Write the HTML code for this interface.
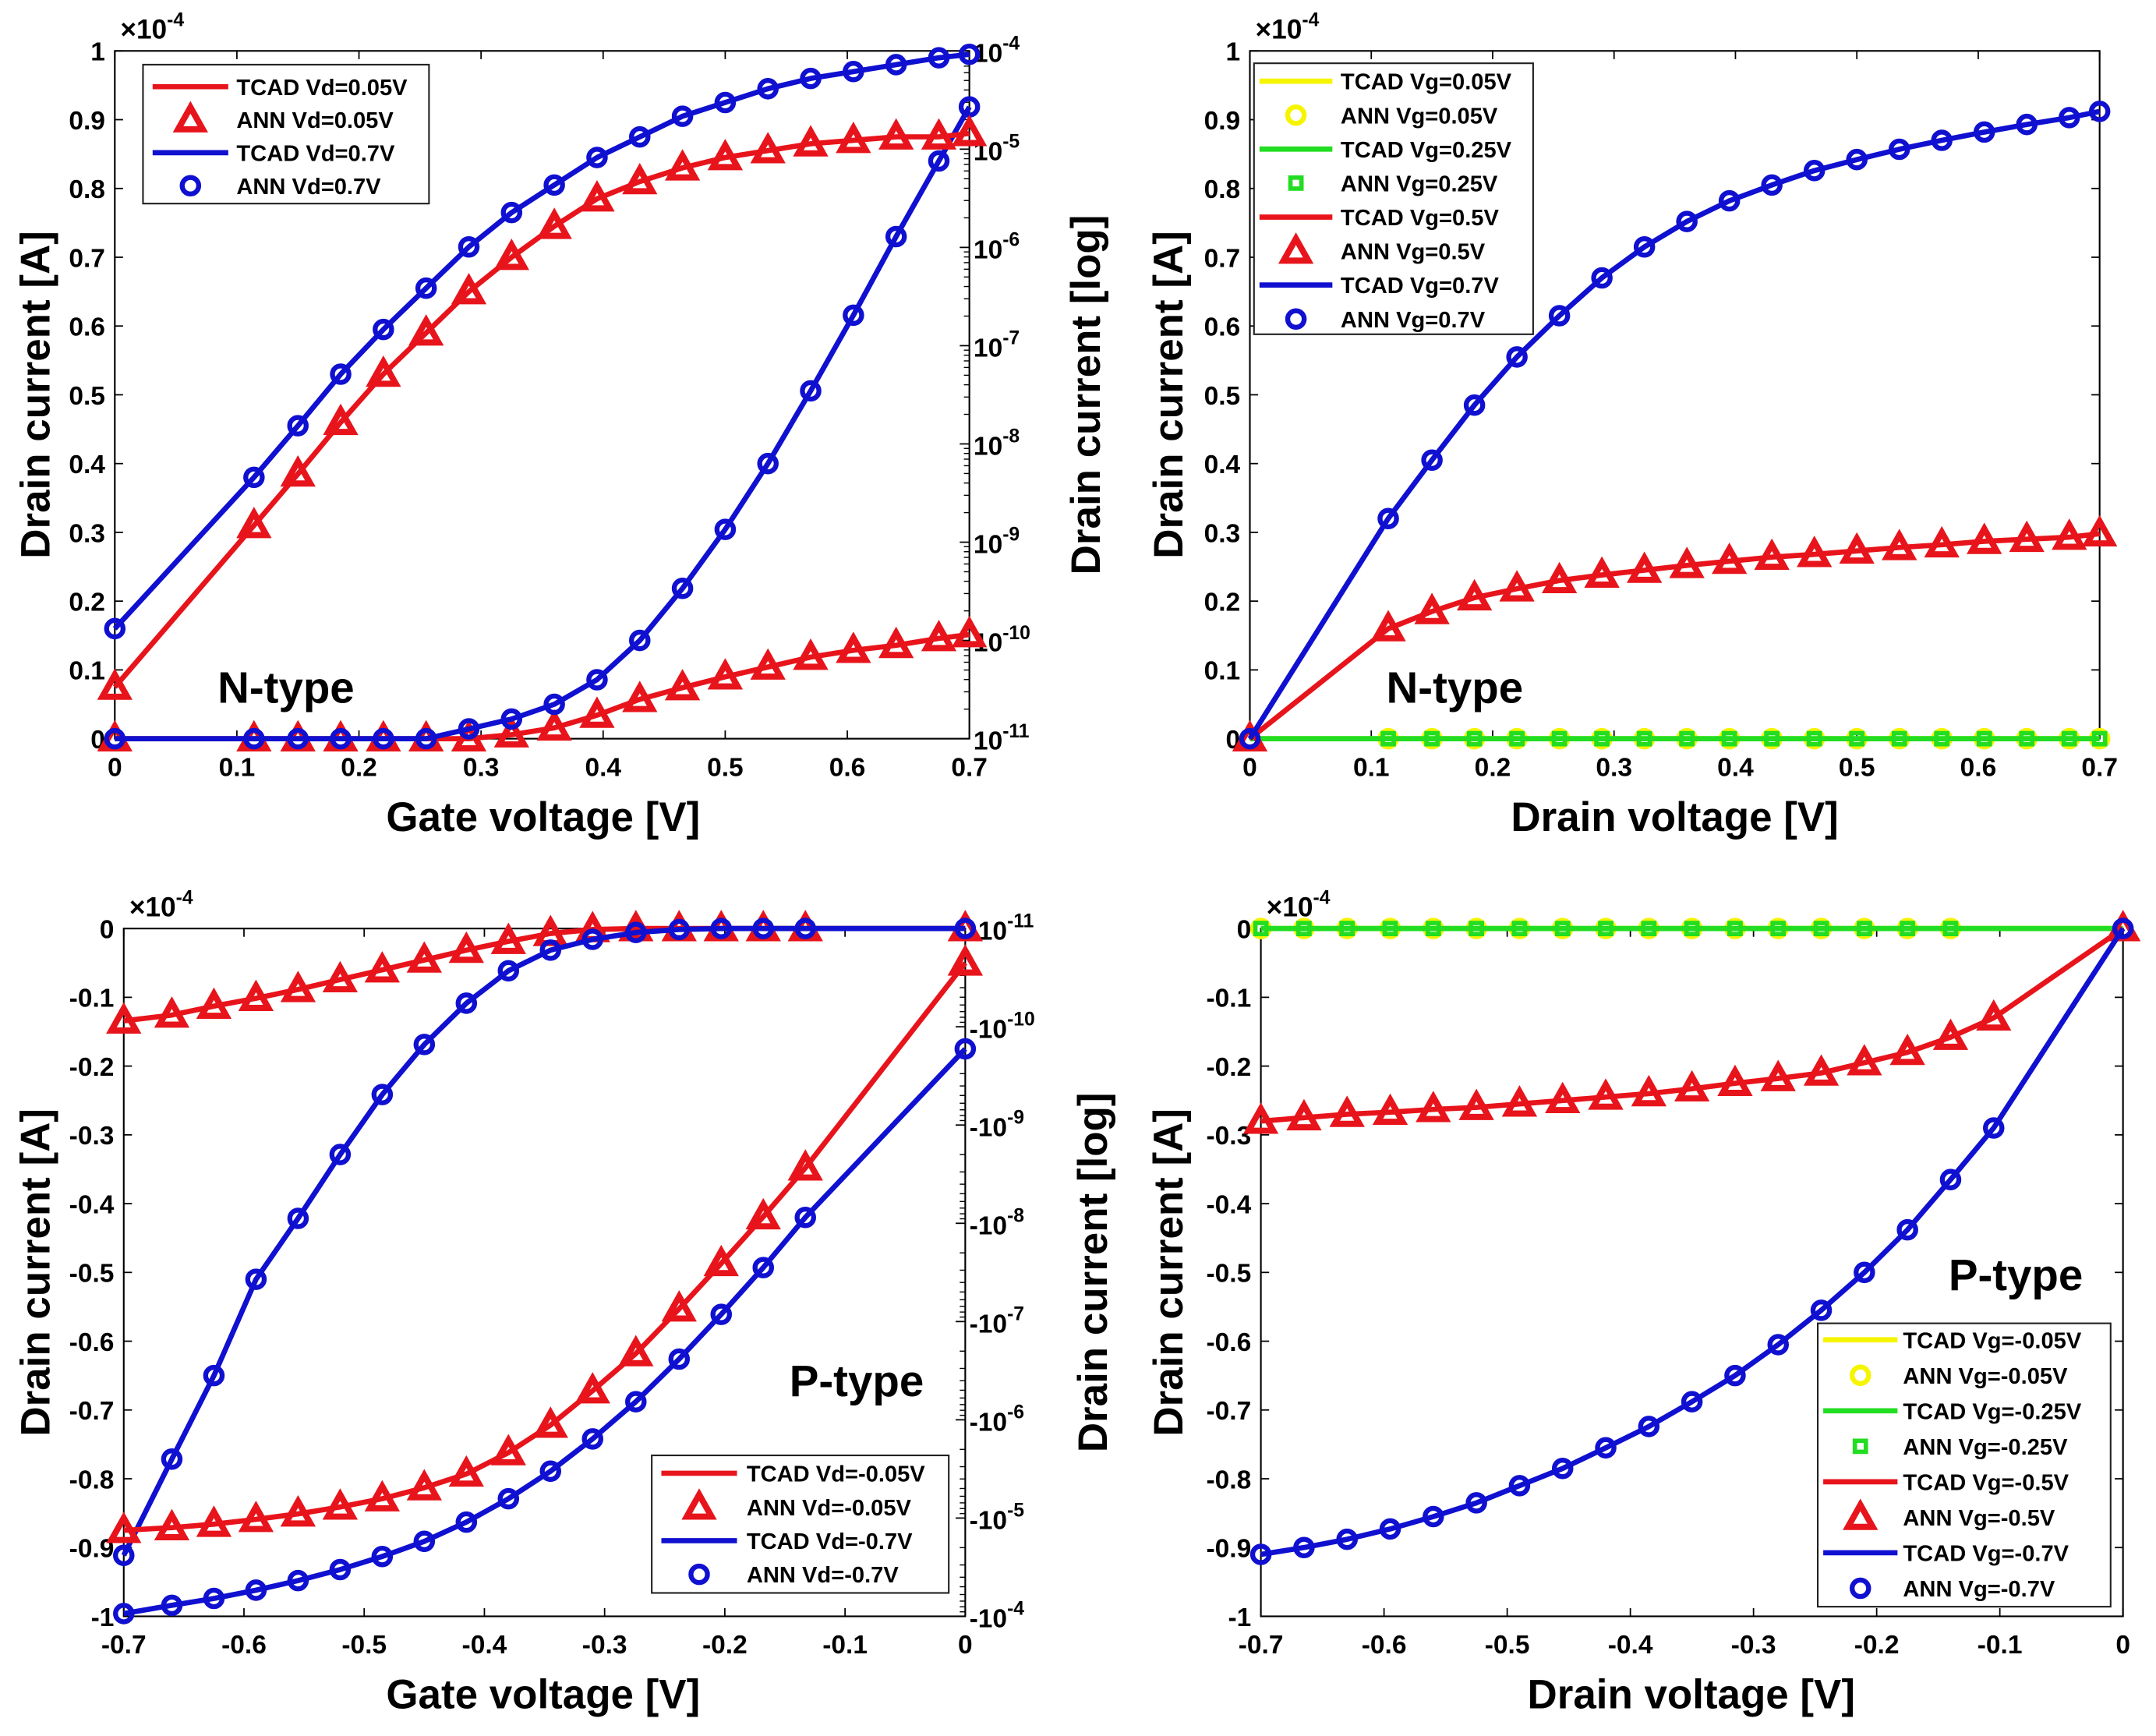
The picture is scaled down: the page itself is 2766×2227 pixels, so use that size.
<!DOCTYPE html>
<html><head><meta charset="utf-8"><title>TCAD vs ANN drain current</title>
<style>
html,body{margin:0;padding:0;background:#fff;}
svg{display:block;}
text{font-family:"Liberation Sans",Arial,sans-serif;font-weight:bold;fill:#000;}
</style></head>
<body>
<svg id="fig" xmlns="http://www.w3.org/2000/svg" width="2766" height="2227" viewBox="0 0 1568 1262" preserveAspectRatio="none"></svg>
<script>
// ---------- data ----------
const xN = [0,0.114,0.15,0.185,0.22,0.255,0.29,0.325,0.36,0.395,0.43,0.465,0.5,0.535,0.57,0.605,0.64,0.675,0.7];
const p1LinVd07 = [0.16,0.38,0.455,0.53,0.595,0.655,0.715,0.765,0.805,0.845,0.875,0.905,0.925,0.945,0.96,0.97,0.98,0.99,0.995];
const p1LinVd005 = [0.075,0.31,0.385,0.46,0.53,0.59,0.65,0.70,0.745,0.785,0.81,0.83,0.845,0.855,0.865,0.87,0.875,0.875,0.88];
const p1LogVd07 = [-11,-11,-11,-11,-11,-11,-10.9,-10.8,-10.65,-10.4,-10.0,-9.47,-8.87,-8.2,-7.46,-6.69,-5.89,-5.12,-4.57];
const p1LogVd005 = [-11,-11,-11,-11,-11,-11,-11,-10.96,-10.89,-10.76,-10.6,-10.48,-10.37,-10.27,-10.17,-10.1,-10.05,-9.98,-9.94];

const p2Vg07 = [0,0.32,0.405,0.485,0.555,0.615,0.67,0.715,0.752,0.782,0.805,0.826,0.842,0.857,0.87,0.882,0.893,0.903,0.912];
const p2Vg05 = [0,0.16,0.185,0.205,0.218,0.23,0.238,0.245,0.252,0.258,0.264,0.268,0.273,0.278,0.282,0.287,0.29,0.293,0.298];
const p2Vg025 = [0,0,0,0,0,0,0,0,0,0,0,0,0,0,0,0,0,0,0];
const p2Vg005 = [0,0,0,0,0,0,0,0,0,0,0,0,0,0,0,0,0,0,0];

const xP3 = [-0.7,-0.66,-0.625,-0.59,-0.555,-0.52,-0.485,-0.45,-0.415,-0.38,-0.345,-0.31,-0.274,-0.238,-0.203,-0.168,-0.133,0];
const p3LinVd005 = [-0.875,-0.871,-0.866,-0.859,-0.851,-0.841,-0.829,-0.813,-0.793,-0.762,-0.722,-0.672,-0.618,-0.553,-0.487,-0.419,-0.348,-0.05];
const p3LinVd07 = [-0.996,-0.984,-0.974,-0.962,-0.948,-0.932,-0.913,-0.891,-0.863,-0.829,-0.789,-0.742,-0.688,-0.626,-0.561,-0.493,-0.42,-0.175];
const p3LogVd005 = [-10.06,-10.12,-10.21,-10.29,-10.38,-10.48,-10.58,-10.68,-10.78,-10.87,-10.95,-10.99,-11,-11,-11,-11,-11,-11];
const p3LogVd07 = [-4.62,-5.6,-6.45,-7.43,-8.05,-8.7,-9.31,-9.82,-10.24,-10.57,-10.78,-10.89,-10.96,-10.99,-11,-11,-11,-11];

const xP4 = [-0.7,-0.665,-0.63,-0.595,-0.56,-0.525,-0.49,-0.455,-0.42,-0.385,-0.35,-0.315,-0.28,-0.245,-0.21,-0.175,-0.14,-0.105,0];
const p4Vg07 = [-0.91,-0.9,-0.888,-0.873,-0.855,-0.835,-0.81,-0.785,-0.755,-0.724,-0.688,-0.65,-0.605,-0.555,-0.5,-0.438,-0.365,-0.29,0];
const p4Vg05 = [-0.28,-0.275,-0.27,-0.267,-0.263,-0.26,-0.255,-0.25,-0.245,-0.24,-0.233,-0.225,-0.218,-0.21,-0.195,-0.18,-0.158,-0.13,0];
const p4Vg025 = [0,0,0,0,0,0,0,0,0,0,0,0,0,0,0,0,0,0,0];
const p4Vg005 = [0,0,0,0,0,0,0,0,0,0,0,0,0,0,0,0,0,0,0];

const xTicksPos = ['0','0.1','0.2','0.3','0.4','0.5','0.6','0.7'];
const xTicksNeg = ['-0.7','-0.6','-0.5','-0.4','-0.3','-0.2','-0.1','0'];
const yTicksPos = ['0','0.1','0.2','0.3','0.4','0.5','0.6','0.7','0.8','0.9','1'];
const yTicksNeg = ['-1','-0.9','-0.8','-0.7','-0.6','-0.5','-0.4','-0.3','-0.2','-0.1','0'];
const logExps = [-11,-10,-9,-8,-7,-6,-5,-4];

// ---------- helpers ----------
const NS='http://www.w3.org/2000/svg';
const svg=document.getElementById('fig');
function mk(tag,attrs,parent){const e=document.createElementNS(NS,tag);for(const k in attrs)e.setAttribute(k,attrs[k]);(parent||svg).appendChild(e);return e;}
const RED='#e8141b',BLUE='#1010d0',GREEN='#22dd22',YEL='#f5f500';

function panel(name,L,R,T,B,xd,yd){
  const g=mk('g',{});
  
  
  return {g,L,R,T,B,
    sx:v=>L+(v-xd[0])/(xd[1]-xd[0])*(R-L),
    sy:v=>B-(v-yd[0])/(yd[1]-yd[0])*(B-T)};
}
function frame(p,xt,yt,xvals,yvals,rightTicks){
  const r=mk('rect',{x:p.L,y:p.T,width:p.R-p.L,height:p.B-p.T,fill:'none',stroke:'#000','stroke-width':1.2},p.g);
  
  
  xt.forEach((t,i)=>{
    const x=p.sx(xvals[i]);
    mk('line',{x1:x,x2:x,y1:p.B,y2:p.B-6,stroke:'#000','stroke-width':1},p.g);
    mk('line',{x1:x,x2:x,y1:p.T,y2:p.T+6,stroke:'#000','stroke-width':1},p.g);
    const tx=mk('text',{x:x,y:p.B+27,'font-size':19,'text-anchor':'middle'},p.g);
    tx.textContent=t;
    
    
  });
  yt.forEach((t,i)=>{
    const y=p.sy(yvals[i]);
    mk('line',{x1:p.L,x2:p.L+6,y1:y,y2:y,stroke:'#000','stroke-width':1},p.g);
    if(rightTicks) mk('line',{x1:p.R,x2:p.R-6,y1:y,y2:y,stroke:'#000','stroke-width':1},p.g);
    const tx=mk('text',{x:p.L-7,y:y+7,'font-size':19,'text-anchor':'end'},p.g);
    tx.textContent=t;
    
    
  });
  const m=mk('text',{x:p.L+4,y:p.T-9,'font-size':20,'font-weight':'normal'},p.g);
  
  
  m.innerHTML='×10<tspan dy="-9" font-size="14">-4</tspan>';
}
function logAxis(p,neg){
  const ly=e=>p.T+(neg?(e+11):(-4-e))*(p.B-p.T)/7;
  logExps.forEach(e=>{
    const y=ly(e);
    mk('line',{x1:p.R,x2:p.R-7,y1:y,y2:y,stroke:'#000','stroke-width':1},p.g);
    const tx=mk('text',{x:p.R+3,y:y+8,'font-size':19,'font-weight':'normal'},p.g);
    
    
    tx.innerHTML=(neg?'-':'')+'10<tspan dy="-9" font-size="14">'+e+'</tspan>';
    if(e<-4){for(let k=2;k<10;k++){const yy=ly(e+Math.log10(k));mk('line',{x1:p.R,x2:p.R-4,y1:yy,y2:yy,stroke:'#000','stroke-width':0.8},p.g);}}
  });
  return ly;
}
function series(p,name,xs,ys,color,marker,yf,skip){
  const f=yf||p.sy;
  const pts=xs.map((x,i)=>p.sx(x).toFixed(1)+','+f(ys[i]).toFixed(1)).join(' ');
  const l=mk('polyline',{points:pts,fill:'none',stroke:color,'stroke-width':3.8,'stroke-linejoin':'round'},p.g);
  
  
  xs.forEach((x,i)=>{
    if(skip&&skip.includes(i))return;
    const m=drawMarker(p.g,marker,p.sx(x),f(ys[i]),color);
    
    
  });
}
function drawMarker(g,type,x,y,c){
  if(type==='o')return mk('circle',{cx:x,cy:y,r:6,fill:'none',stroke:c,'stroke-width':3.6},g);
  if(type==='^')return mk('polygon',{points:`${x},${y-9} ${x-9},${y+7} ${x+9},${y+7}`,fill:'none',stroke:c,'stroke-width':4.5,'stroke-linejoin':'miter'},g);
  if(type==='s')return mk('rect',{x:x-4,y:y-4,width:8,height:8,fill:'none',stroke:c,'stroke-width':3.2},g);
}
function legend(p,x,y,w,h,rows,lx1,lx2,tx,step,y0){
  const box=mk('g',{},p.g);
  
  
  mk('rect',{x:x,y:y,width:w,height:h,fill:'#fff',stroke:'#222','stroke-width':1.2},box);
  rows.forEach((r,i)=>{
    const yy=y0+i*step;
    const e=mk('g',{},box);
    
    
    if(r[2]==='-') mk('line',{x1:lx1,x2:lx2,y1:yy,y2:yy,stroke:r[1],'stroke-width':3.8},e);
    else drawMarker(e,r[2],(lx1+lx2)/2,yy,r[1]);
    const t=mk('text',{x:tx,y:yy+6,'font-size':16.5},e);
    t.textContent=r[0];
  });
}
function label(txt,x,y,rot,size,name){
  const t=mk('text',{x:x,y:y,'font-size':size,'text-anchor':'middle',transform:rot?`rotate(-90 ${x} ${y})`:''});
  t.textContent=txt;
  
  
}

// ---------- panel 1 ----------
const p1=panel('panel-ntype-transfer',83.5,705,37,537,[0,0.7],[0,1]);
frame(p1,xTicksPos,yTicksPos,[0,0.1,0.2,0.3,0.4,0.5,0.6,0.7],[0,0.1,0.2,0.3,0.4,0.5,0.6,0.7,0.8,0.9,1],false);
const ly1=logAxis(p1,false);
series(p1,'log-tcad-vd-0.05',xN,p1LogVd005,RED,'^',ly1);
series(p1,'log-tcad-vd-0.7',xN,p1LogVd07,BLUE,'o',ly1);
series(p1,'lin-tcad-vd-0.05',xN,p1LinVd005,RED,'^');
series(p1,'lin-tcad-vd-0.7',xN,p1LinVd07,BLUE,'o');
legend(p1,104,47,208,101,[['TCAD Vd=0.05V',RED,'-'],['ANN Vd=0.05V',RED,'^'],['TCAD Vd=0.7V',BLUE,'-'],['ANN Vd=0.7V',BLUE,'o']],111,166,172,24,63);
label('N-type',208,511,false,32,'ntype-annotation');
label('Drain current [A]',36,287,true,30,'y-axis-title');
label('Drain current [log]',800,287,true,30,'y-axis-title-log');
label('Gate voltage [V]',395,604,false,30,'x-axis-title');

// ---------- panel 2 ----------
const p2=panel('panel-ntype-output',909,1527,37,537,[0,0.7],[0,1]);
frame(p2,xTicksPos,yTicksPos,[0,0.1,0.2,0.3,0.4,0.5,0.6,0.7],[0,0.1,0.2,0.3,0.4,0.5,0.6,0.7,0.8,0.9,1],true);
series(p2,'tcad-vg-0.05',xN,p2Vg005,YEL,'o',null,[]);
series(p2,'tcad-vg-0.25',xN,p2Vg025,GREEN,'s',null,[0]);
series(p2,'tcad-vg-0.5',xN,p2Vg05,RED,'^');
series(p2,'tcad-vg-0.7',xN,p2Vg07,BLUE,'o');
legend(p2,912,46,203,197,[['TCAD Vg=0.05V',YEL,'-'],['ANN Vg=0.05V',YEL,'o'],['TCAD Vg=0.25V',GREEN,'-'],['ANN Vg=0.25V',GREEN,'s'],['TCAD Vg=0.5V',RED,'-'],['ANN Vg=0.5V',RED,'^'],['TCAD Vg=0.7V',BLUE,'-'],['ANN Vg=0.7V',BLUE,'o']],916,969,975,24.7,59);
label('N-type',1058,511,false,32,'ntype-annotation');
label('Drain current [A]',860,287,true,30,'y-axis-title');
label('Drain voltage [V]',1218,604,false,30,'x-axis-title');

// ---------- panel 3 ----------
const p3=panel('panel-ptype-transfer',90,702,675,1175,[-0.7,0],[-1,0]);
frame(p3,xTicksNeg,yTicksNeg,[-0.7,-0.6,-0.5,-0.4,-0.3,-0.2,-0.1,0],[-1,-0.9,-0.8,-0.7,-0.6,-0.5,-0.4,-0.3,-0.2,-0.1,0],false);
const ly3=logAxis(p3,true);
series(p3,'log-tcad-vd-neg0.05',xP3,p3LogVd005,RED,'^',ly3);
series(p3,'log-tcad-vd-neg0.7',xP3,p3LogVd07,BLUE,'o',ly3);
series(p3,'lin-tcad-vd-neg0.05',xP3,p3LinVd005,RED,'^');
series(p3,'lin-tcad-vd-neg0.7',xP3,p3LinVd07,BLUE,'o');
legend(p3,474,1058,216,100,[['TCAD Vd=-0.05V',RED,'-'],['ANN Vd=-0.05V',RED,'^'],['TCAD Vd=-0.7V',BLUE,'-'],['ANN Vd=-0.7V',BLUE,'o']],481,536,543,24.5,1071);
label('P-type',623,1015,false,32,'ptype-annotation');
label('Drain current [A]',36,925,true,30,'y-axis-title');
label('Drain current [log]',805,925,true,30,'y-axis-title-log');
label('Gate voltage [V]',395,1242,false,30,'x-axis-title');

// ---------- panel 4 ----------
const p4=panel('panel-ptype-output',917,1544,675,1175,[-0.7,0],[-1,0]);
frame(p4,xTicksNeg,yTicksNeg,[-0.7,-0.6,-0.5,-0.4,-0.3,-0.2,-0.1,0],[-1,-0.9,-0.8,-0.7,-0.6,-0.5,-0.4,-0.3,-0.2,-0.1,0],true);
series(p4,'tcad-vg-neg0.05',xP4,p4Vg005,YEL,'o',null,[17,18]);
series(p4,'tcad-vg-neg0.25',xP4,p4Vg025,GREEN,'s',null,[17,18]);
series(p4,'tcad-vg-neg0.5',xP4,p4Vg05,RED,'^');
series(p4,'tcad-vg-neg0.7',xP4,p4Vg07,BLUE,'o');
legend(p4,1322,962,213,206,[['TCAD Vg=-0.05V',YEL,'-'],['ANN Vg=-0.05V',YEL,'o'],['TCAD Vg=-0.25V',GREEN,'-'],['ANN Vg=-0.25V',GREEN,'s'],['TCAD Vg=-0.5V',RED,'-'],['ANN Vg=-0.5V',RED,'^'],['TCAD Vg=-0.7V',BLUE,'-'],['ANN Vg=-0.7V',BLUE,'o']],1326,1380,1384,25.8,974);
label('P-type',1466,938,false,32,'ptype-annotation');
label('Drain current [A]',860,925,true,30,'y-axis-title');
label('Drain voltage [V]',1230,1242,false,30,'x-axis-title');
</script>
</body></html>
